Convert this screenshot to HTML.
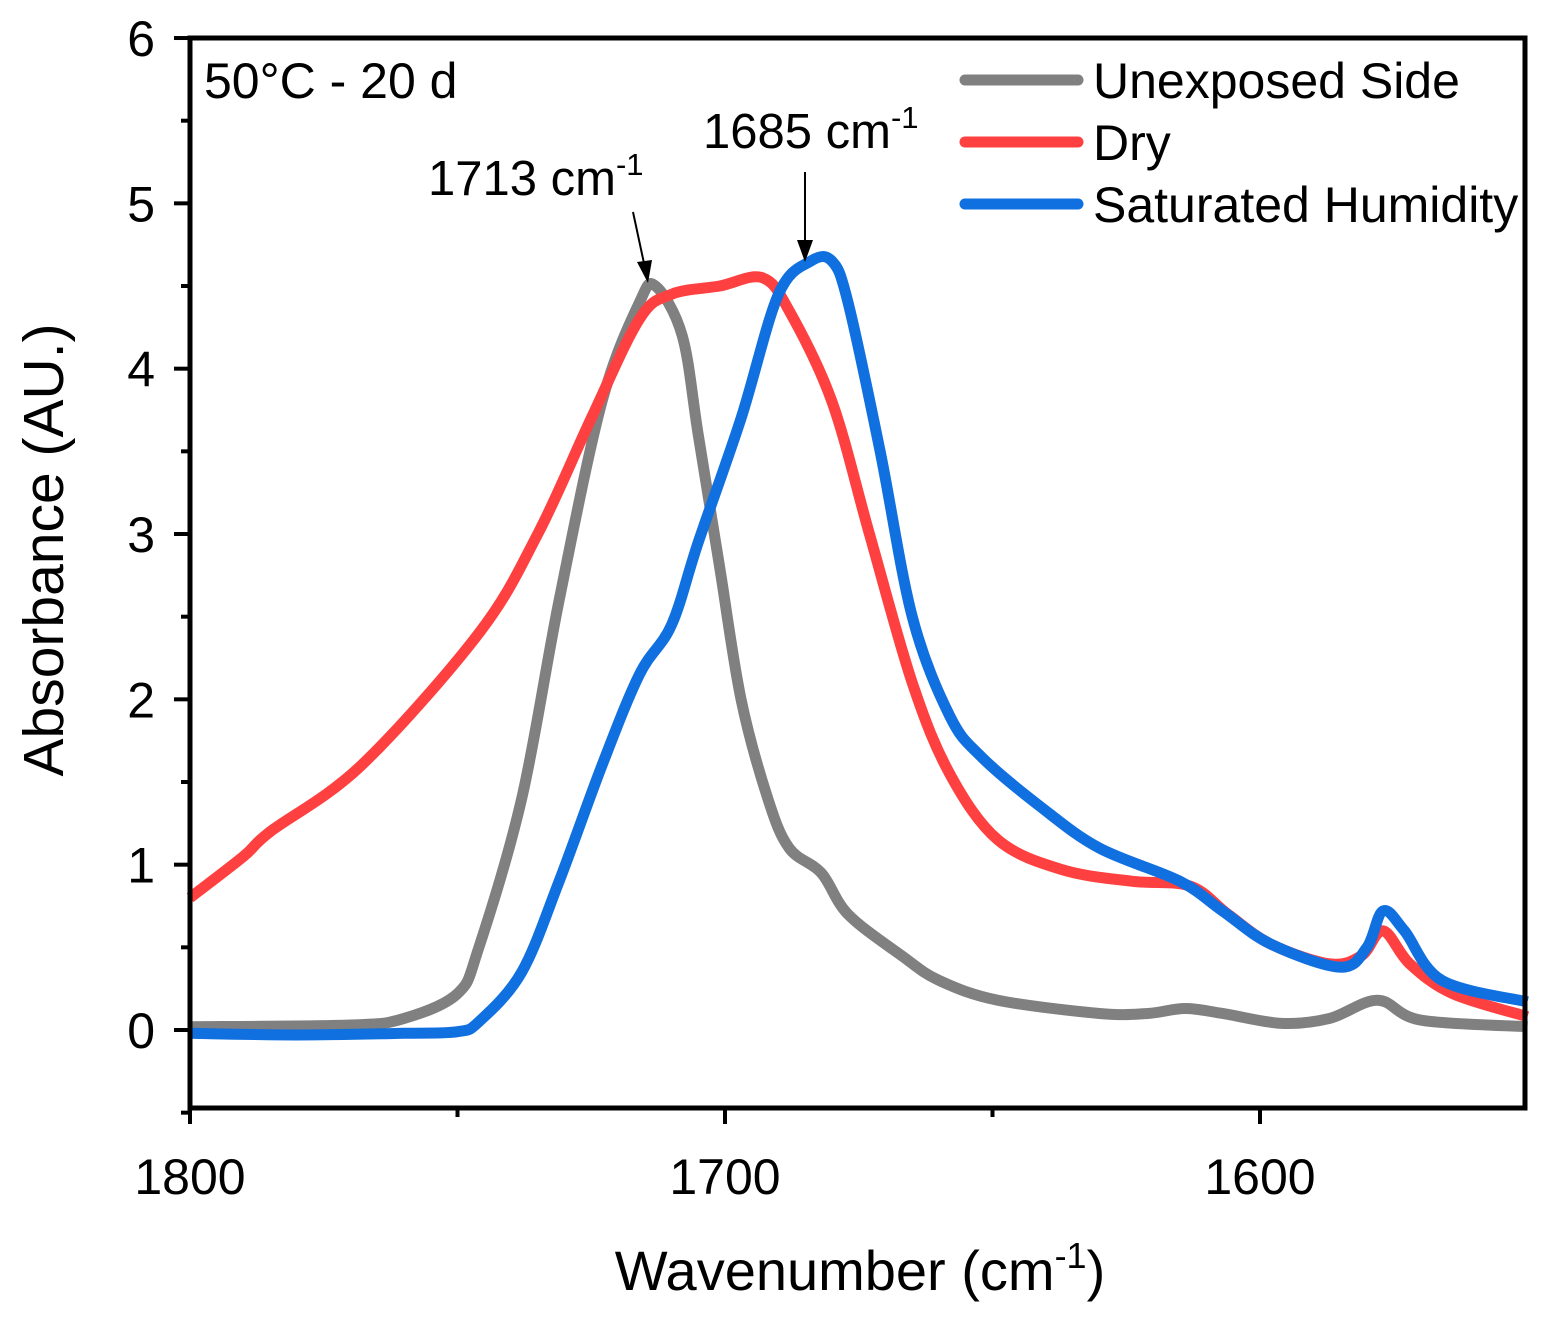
<!DOCTYPE html>
<html><head><meta charset="utf-8"><style>
body{margin:0;background:#fff}
text{font-family:"Liberation Sans",Arial,sans-serif;fill:#000}
</style></head><body>
<svg id="chart" width="1547" height="1315" viewBox="0 0 1547 1315" xmlns="http://www.w3.org/2000/svg">
<g id="plot"></g>
<rect x="190" y="38" width="1335" height="1070" fill="none" stroke="#000" stroke-width="5"/>
<g id="axes"></g>
<text x="860" y="1290" font-size="56" text-anchor="middle">Wavenumber (cm<tspan font-size="36" dy="-22">-1</tspan><tspan dy="22">)</tspan></text>
<text transform="translate(63,550) rotate(-90)" font-size="57" text-anchor="middle">Absorbance (AU.)</text>
<text x="204" y="98" font-size="50">50°C - 20 d</text>
<g>
<line x1="965" y1="80" x2="1078" y2="80" stroke="#808080" stroke-width="11" stroke-linecap="round"/>
<text x="1093" y="98" font-size="50">Unexposed Side</text>
<line x1="965" y1="142" x2="1078" y2="142" stroke="#ff4040" stroke-width="11" stroke-linecap="round"/>
<text x="1093" y="160" font-size="50">Dry</text>
<line x1="965" y1="204" x2="1078" y2="204" stroke="#1070e0" stroke-width="11" stroke-linecap="round"/>
<text x="1093" y="222" font-size="50">Saturated Humidity</text>
</g>
<text x="428" y="195" font-size="49">1713 cm<tspan font-size="31" dy="-20">-1</tspan></text>
<line x1="633" y1="212" x2="645" y2="268" stroke="#000" stroke-width="2"/>
<polygon points="648,283 637,262 652,260" fill="#000"/>
<text x="703" y="148" font-size="49">1685 cm<tspan font-size="31" dy="-20">-1</tspan></text>
<line x1="805" y1="172" x2="805" y2="245" stroke="#000" stroke-width="2"/>
<polygon points="805,262 797,240 813,240" fill="#000"/>
</svg>
<script>
const wnGray=[1800,1770,1760,1750,1746,1738,1731,1723,1716,1713,1708,1705,1701,1697,1692,1688,1682,1677,1667,1660,1649,1630,1621,1614,1607,1596,1587,1578,1570,1550];
const absGray=[0.02,0.03,0.07,0.22,0.5,1.4,2.6,3.8,4.4,4.5,4.2,3.6,2.8,2.0,1.4,1.1,0.95,0.7,0.45,0.3,0.18,0.1,0.1,0.13,0.1,0.04,0.07,0.18,0.06,0.02];
const wnDry=[1800,1790,1785,1768,1746,1735,1725,1716,1710,1701,1693,1688,1680,1673,1665,1658,1649,1637,1624,1613,1606,1598,1587,1581,1577,1572,1564,1550];
const absDry=[0.8,1.05,1.2,1.6,2.4,3.0,3.7,4.3,4.45,4.5,4.55,4.35,3.8,3.0,2.1,1.55,1.15,0.97,0.9,0.87,0.7,0.52,0.4,0.45,0.6,0.4,0.22,0.08];
const wnHum=[1800,1780,1760,1750,1746,1738,1731,1723,1716,1710,1705,1697,1690,1684,1680,1677,1671,1665,1658,1652,1641,1630,1615,1607,1598,1585,1580,1577,1573,1566,1550];
const absHum=[-0.02,-0.03,-0.02,-0.01,0.05,0.35,0.9,1.6,2.15,2.45,2.95,3.7,4.45,4.65,4.65,4.4,3.5,2.5,1.9,1.65,1.35,1.1,0.9,0.72,0.52,0.38,0.5,0.72,0.6,0.3,0.17];
const xTicks=[1800,1700,1600];
const yTicks=[0,1,2,3,4,5,6];
const X=w=>190+(1800-w)*5.35;
const Y=a=>1030-a*165.33;
const NS="http://www.w3.org/2000/svg";
function pathFor(ws,as){
  const p=ws.map((w,i)=>[X(w),Y(as[i])]);
  let d="M"+p[0][0]+","+p[0][1];
  for(let i=0;i<p.length-1;i++){
    const p0=p[Math.max(0,i-1)],p1=p[i],p2=p[i+1],p3=p[Math.min(p.length-1,i+2)];
    const c1=[p1[0]+(p2[0]-p0[0])/6,p1[1]+(p2[1]-p0[1])/6];
    const c2=[p2[0]-(p3[0]-p1[0])/6,p2[1]-(p3[1]-p1[1])/6];
    d+=` C${c1[0]},${c1[1]} ${c2[0]},${c2[1]} ${p2[0]},${p2[1]}`;
  }
  return d;
}
const plot=document.getElementById("plot");
[[wnGray,absGray,"#808080","unexposed-side-line"],[wnDry,absDry,"#ff4040","dry-line"],[wnHum,absHum,"#1070e0","saturated-humidity-line"]].forEach(s=>{
  const el=document.createElementNS(NS,"path");
  el.setAttribute("d",pathFor(s[0],s[1]));
  el.setAttribute("fill","none");el.setAttribute("stroke",s[2]);el.setAttribute("stroke-width","11");el.setAttribute("stroke-linejoin","round");
  
  
  plot.appendChild(el);
});
const axes=document.getElementById("axes");
function ln(x1,y1,x2,y2,name){
  const l=document.createElementNS(NS,"line");
  l.setAttribute("x1",x1);l.setAttribute("y1",y1);l.setAttribute("x2",x2);l.setAttribute("y2",y2);
  l.setAttribute("stroke","#000");l.setAttribute("stroke-width","4");
  
  
  axes.appendChild(l);
}
function tx(x,y,s,anchor,name){
  const t=document.createElementNS(NS,"text");
  t.setAttribute("x",x);t.setAttribute("y",y);t.setAttribute("font-size","50");t.setAttribute("text-anchor",anchor);
  t.textContent=s;
  
  
  axes.appendChild(t);
}
yTicks.forEach(v=>{ln(174,Y(v),190,Y(v),"y-tick");tx(155,Y(v)+18,String(v),"end","y-tick-label");});
for(let v=-0.5;v<6;v+=1){ln(181,Y(v),190,Y(v),"y-minor-tick");}
xTicks.forEach(v=>{ln(X(v),1108,X(v),1124,"x-tick");tx(X(v),1194,String(v),"middle","x-tick-label");});
[1750,1650].forEach(v=>ln(X(v),1108,X(v),1117,"x-minor-tick"));
</script>
</body></html>
